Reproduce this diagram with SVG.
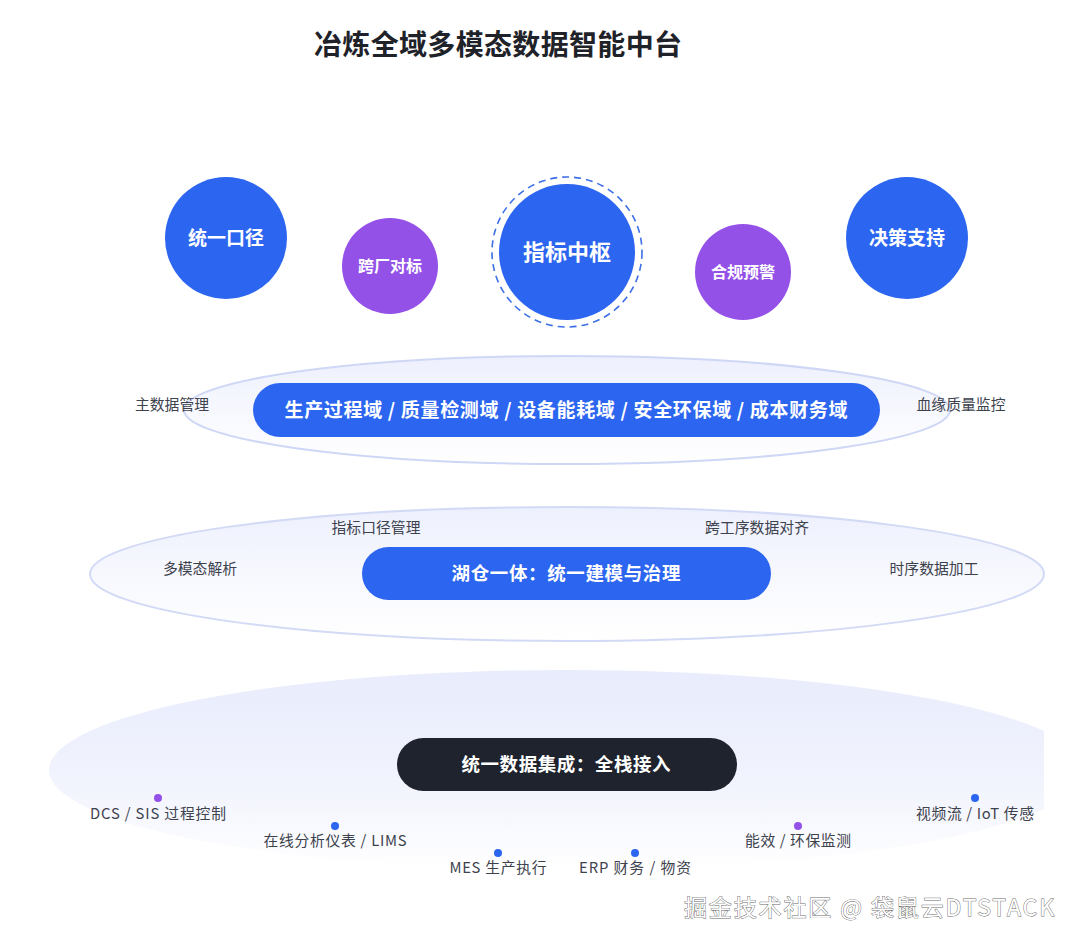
<svg xmlns="http://www.w3.org/2000/svg" width="1080" height="947" viewBox="0 0 1080 947">
<defs>
<style>
text{font-family:"Noto Sans CJK SC","Liberation Sans",sans-serif;}
.title{font-size:28px;font-weight:700;fill:#1f2329;}
.cb{font-size:19px;font-weight:700;fill:#fff;text-anchor:middle;}
.cp{font-size:16px;font-weight:700;fill:#fff;text-anchor:middle;}
.pill{font-size:18.5px;font-weight:700;fill:#fff;text-anchor:middle;}
.lbl{font-size:14.8px;fill:#3d424d;text-anchor:middle;}
.blue{fill:#2c65f0;}
.purple{fill:#9451e8;}
</style>
<linearGradient id="g1" x1="0" y1="0" x2="0" y2="1">
<stop offset="0" stop-color="#edf0fd"/>
<stop offset="0.5" stop-color="#f7f8fe"/>
<stop offset="1" stop-color="#ffffff"/>
</linearGradient>
<linearGradient id="g3" x1="0" y1="0" x2="0" y2="1">
<stop offset="0" stop-color="#e8ecfc"/>
<stop offset="0.55" stop-color="#f1f3fd"/>
<stop offset="1" stop-color="#ffffff"/>
</linearGradient>
<clipPath id="clip3"><rect x="0" y="600" width="1044" height="300"/></clipPath>
</defs>
<rect width="1080" height="947" fill="#ffffff"/>
<text class="title" x="314" y="55" textLength="368" lengthAdjust="spacing">冶炼全域多模态数据智能中台</text>

<g id="node-tongyikoujing"><circle class="blue" cx="226" cy="238" r="61"/><text class="cb" x="226" y="245">统一口径</text></g>
<g id="node-kuachangduibiao"><circle class="purple" cx="390" cy="266" r="48"/><text class="cp" x="390" y="272">跨厂对标</text></g>
<g id="node-zhibiaozhongshu"><circle cx="567" cy="252" r="75" fill="none" stroke="#3d6fe6" stroke-width="1.6" stroke-dasharray="7 5"/><circle class="blue" cx="567" cy="252" r="68"/><text class="cb" x="567" y="260" style="font-size:22px">指标中枢</text></g>
<g id="node-hegui"><circle class="purple" cx="743" cy="272" r="48"/><text class="cp" x="743" y="278">合规预警</text></g>
<g id="node-juece"><circle class="blue" cx="907" cy="238" r="61"/><text class="cb" x="907" y="245">决策支持</text></g>

<g id="layer-domain">
<ellipse cx="567" cy="410" rx="383" ry="54" fill="url(#g1)" stroke="#cfd7f6" stroke-width="2"/>
<rect class="blue" x="253" y="383" width="627" height="54" rx="27"/>
<text class="pill" x="566" y="417" style="font-size:19px" textLength="563" lengthAdjust="spacing">生产过程域 / 质量检测域 / 设备能耗域 / 安全环保域 / 成本财务域</text>
<text class="lbl" x="172" y="410" textLength="74">主数据管理</text>
<text class="lbl" x="961" y="410" textLength="89">血缘质量监控</text>
</g>

<g id="layer-lakehouse">
<ellipse cx="567" cy="574" rx="477" ry="67" fill="url(#g1)" stroke="#d3daf5" stroke-width="2"/>
<rect class="blue" x="362" y="547" width="409" height="53" rx="26.5"/>
<text class="pill" x="566" y="580" textLength="229" lengthAdjust="spacing">湖仓一体：统一建模与治理</text>
<text class="lbl" x="376" y="533" textLength="89">指标口径管理</text>
<text class="lbl" x="757" y="533" textLength="104">跨工序数据对齐</text>
<text class="lbl" x="200" y="574" textLength="74">多模态解析</text>
<text class="lbl" x="934" y="574" textLength="89">时序数据加工</text>
</g>

<g id="layer-integration">
<ellipse cx="567" cy="770" rx="518" ry="100" fill="url(#g3)" clip-path="url(#clip3)"/>
<rect x="397" y="738" width="340" height="53" rx="26.5" fill="#1e232e"/>
<text class="pill" x="566" y="771" textLength="209" lengthAdjust="spacing">统一数据集成：全栈接入</text>
</g>

<g id="sources">
<circle cx="158" cy="798" r="4" class="purple"/><text class="lbl" x="158" y="819" textLength="136" lengthAdjust="spacing">DCS / SIS 过程控制</text>
<circle cx="335" cy="826" r="4" class="blue"/><text class="lbl" x="335" y="846" textLength="143" lengthAdjust="spacing">在线分析仪表 / LIMS</text>
<circle cx="498" cy="853" r="4" class="blue"/><text class="lbl" x="498" y="873" textLength="97" lengthAdjust="spacing">MES 生产执行</text>
<circle cx="635" cy="853" r="4" class="blue"/><text class="lbl" x="635" y="873" textLength="112" lengthAdjust="spacing">ERP 财务 / 物资</text>
<circle cx="798" cy="826" r="4" class="purple"/><text class="lbl" x="798" y="846" textLength="106" lengthAdjust="spacing">能效 / 环保监测</text>
<circle cx="975" cy="798" r="4" class="blue"/><text class="lbl" x="975" y="819" textLength="118" lengthAdjust="spacing">视频流 / IoT 传感</text>
</g>

<text x="684" y="916" textLength="370" lengthAdjust="spacing" style="font-size:23px;fill:#ffffff;stroke:#6b6b6b;stroke-width:0.9;paint-order:stroke">掘金技术社区 @ 袋鼠云DTSTACK</text>
</svg>
